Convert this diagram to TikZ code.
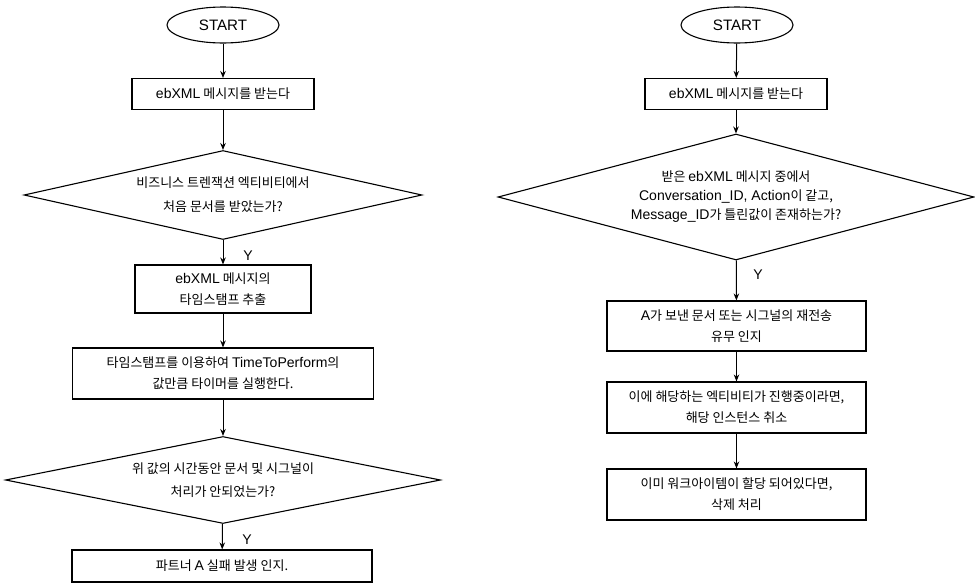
\documentclass[tikz,border=0pt]{standalone}
\usepackage{fontspec}
\setmainfont{Noto Sans CJK KR}
% Latin runs are set in a wider Arial-metric face
\newfontfamily\lat[Scale=1.08]{Liberation Sans}
\usetikzlibrary{shapes.geometric,arrows.meta}

\tikzset{
  base/.style={draw=black, line width=1.1pt, align=center, inner sep=0pt,
               font=\fontsize{13}{21}\selectfont},
  startnode/.style={base, ellipse, minimum width=112pt, minimum height=36pt,
                    font=\fontsize{14}{16}\selectfont},
  procbox/.style={base, rectangle},
  decision/.style={base, diamond},
  flow/.style={draw=black, line width=1pt, -{Stealth[length=7pt,width=5.5pt]}},
  ylabel/.style={font=\fontsize{13}{15}\selectfont\lat, inner sep=0pt}
}

\begin{document}
\begin{tikzpicture}[x=1pt, y=-1pt]
\useasboundingbox (0,0) rectangle (975,584);

% ---- left flow ----
\node[startnode] (ls) at (223,25) {{\lat START}};
\node[procbox, minimum width=182pt, minimum height=31pt] (l1) at (223,94)
  {{\lat ebXML} 메시지를 받는다};
\node[decision, minimum width=398pt, minimum height=89pt, aspect=4.47,
      font=\fontsize{13}{24}\selectfont] (ld1) at (223,195)
  {비즈니스 트렌잭션 엑티비티에서\\처음 문서를 받았는가?};
\node[procbox, minimum width=176pt, minimum height=48pt] (l2) at (223,289)
  {{\lat ebXML} 메시지의\\타임스탬프 추출};
\node[procbox, minimum width=301pt, minimum height=51pt] (l3) at (223,373.5)
  {타임스탬프를 이용하여 {\lat TimeToPerform}의\\값만큼 타이머를 실행한다.};
\node[decision, minimum width=435pt, minimum height=87pt, aspect=5,
      font=\fontsize{13}{23}\selectfont] (ld2) at (223,480)
  {위 값의 시간동안 문서 및 시그널이\\처리가 안되었는가?};
\node[procbox, minimum width=300pt, minimum height=32pt] (l4) at (222,566)
  {파트너 {\lat A} 실패 발생 인지.};

\draw[flow] (ls) -- (l1);
\draw[flow] (l1) -- (ld1);
\draw[flow] (ld1) -- (l2);
\draw[flow] (l2) -- (l3);
\draw[flow] (l3) -- (ld2);
\draw[flow] (ld2) -- (l4);

\node[ylabel] (ly1) at (248,256) {Y};
\node[ylabel] (ly2) at (247,540) {Y};

% ---- right flow ----
\node[startnode] (rs) at (737,25) {{\lat START}};
\node[procbox, minimum width=182pt, minimum height=31pt] (r1) at (736,94)
  {{\lat ebXML} 메시지를 받는다};
\node[decision, minimum width=476pt, minimum height=126pt, aspect=3.78,
      font=\fontsize{13}{19}\selectfont] (rd) at (736,197)
  {받은 {\lat ebXML} 메시지 중에서\\{\lat Conversation\_ID, Action}이 같고,\\{\lat Message\_ID}가 틀린값이 존재하는가?};
\node[procbox, minimum width=259pt, minimum height=50pt] (ra) at (736.5,326)
  {{\lat A}가 보낸 문서 또는 시그널의 재전송\\유무 인지};
\node[procbox, minimum width=259pt, minimum height=51pt] (rb) at (736.5,407.5)
  {이에 해당하는 엑티비티가 진행중이라면,\\해당 인스턴스 취소};
\node[procbox, minimum width=259pt, minimum height=51pt] (rc) at (736.5,494.5)
  {이미 워크아이템이 할당 되어있다면,\\삭제 처리};

\draw[flow] (rs) -- (r1);
\draw[flow] (r1) -- (rd);
\draw[flow] (rd) -- (ra);
\draw[flow] (ra) -- (rb);
\draw[flow] (rb) -- (rc);

\node[ylabel] (ry) at (758,275) {Y};
\end{tikzpicture}
\end{document}
